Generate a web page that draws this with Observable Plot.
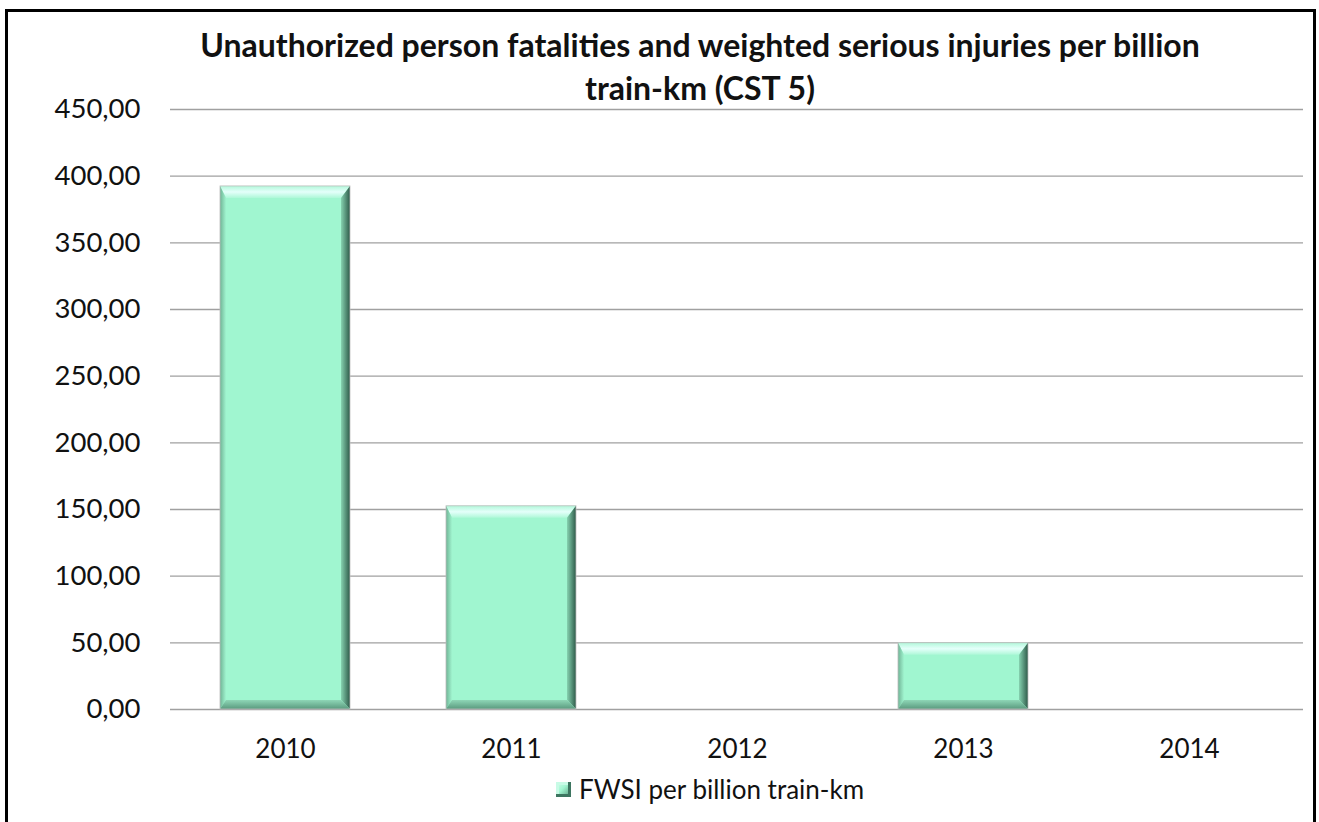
<!DOCTYPE html>
<html>
<head>
<meta charset="utf-8">
<script src="https://cdn.jsdelivr.net/npm/d3@7"></script>
<script src="https://cdn.jsdelivr.net/npm/@observablehq/plot@0.6"></script>
<style>
  html, body { margin: 0; padding: 0; background: #fff; overflow: hidden; }
  body { width: 1319px; height: 822px; position: relative; font-family: Lato, "Open Sans", sans-serif; }
  #frame { position: absolute; left: 5px; top: 9px; width: 1311px; height: 900px; border: 3px solid #000; box-sizing: border-box; pointer-events: none; }
  #title { position: absolute; left: 80px; width: 1240px; top: 23px; text-align: center; font-weight: 700; font-size: 32px; line-height: 43px; color: #111; }
  #title span { display: block; }
  #chart { position: absolute; left: 0; top: 70px; }
  #legend { position: absolute; left: 556px; top: 773px; display: flex; align-items: center; font-size: 26px; color: #111; }
  #legend .sw { width: 15px; height: 15px; margin-right: 8px; background: linear-gradient(135deg, #d8fff0 0%, #a0f5d0 45%, #4f8f74 100%); box-shadow: inset -3px -3px 0 #3d7560, inset 3px 3px 0 #c8fbe6; }
</style>
</head>
<body>
<svg width="0" height="0" style="position:absolute">
  <defs>
    <linearGradient id="bvTop" x1="0" y1="0" x2="0" y2="1">
      <stop offset="0" stop-color="#b2f8da"/>
      <stop offset="0.5" stop-color="#e4fffa"/>
      <stop offset="1" stop-color="#aef8d8"/>
    </linearGradient>
    <linearGradient id="bvLeft" x1="0" y1="0" x2="1" y2="0">
      <stop offset="0" stop-color="#6fb395"/>
      <stop offset="1" stop-color="#a0f4cf"/>
    </linearGradient>
    <linearGradient id="bvRight" x1="0" y1="0" x2="1" y2="0">
      <stop offset="0" stop-color="#86d2b0"/>
      <stop offset="1" stop-color="#2e5a49"/>
    </linearGradient>
    <linearGradient id="bvBottom" x1="0" y1="0" x2="0" y2="1">
      <stop offset="0" stop-color="#8ed6b6"/>
      <stop offset="1" stop-color="#5a9a7e"/>
    </linearGradient>
  </defs>
</svg>
<div id="frame"></div>
<div id="title"><span>Unauthorized person fatalities and weighted serious injuries per billion</span><span>train-km (CST 5)</span></div>
<div id="chart"></div>
<div id="legend"><div class="sw"></div><span>FWSI per billion train-km</span></div>
<script>
const years = ["2010", "2011", "2012", "2013", "2014"];
const fwsi = [392.3, 152.4, 0, 49.7, 0];
const yTicks = [0, 50, 100, 150, 200, 250, 300, 350, 400, 450];
const seriesName = "FWSI per billion train-km";

const data = years.map((y, i) => ({year: y, value: fwsi[i]}));
const fmt = v => v.toFixed(2).replace(".", ",");

function bevel(index, scales, values, dimensions, context, next) {
  const g = next(index, scales, values, dimensions, context);
  const ns = "http://www.w3.org/2000/svg";
  g.querySelectorAll("rect").forEach(r => {
    const x = +r.getAttribute("x"), y = +r.getAttribute("y");
    const w = +r.getAttribute("width"), h = +r.getAttribute("height");
    if (!(h > 0)) return;
    const bt = Math.min(12, h / 3), bb = Math.min(9, h / 3), bl = 6, br = 9;
    const polys = [
      [[x, y], [x + w, y], [x + w - br, y + bt], [x + bl, y + bt], "url(#bvTop)"],
      [[x, y], [x + bl, y + bt], [x + bl, y + h - bb], [x, y + h], "url(#bvLeft)"],
      [[x + w - br, y + bt], [x + w, y], [x + w, y + h], [x + w - br, y + h - bb], "url(#bvRight)"],
      [[x, y + h], [x + bl, y + h - bb], [x + w - br, y + h - bb], [x + w, y + h], "url(#bvBottom)"]
    ];
    const parent = r.parentNode;
    for (const p of polys) {
      const el = document.createElementNS(ns, "polygon");
      el.setAttribute("points", p.slice(0, 4).map(q => q.join(",")).join(" "));
      el.setAttribute("fill", p[4]);
      parent.appendChild(el);
    }
    const outline = document.createElementNS(ns, "rect");
    ["x", "y", "width", "height"].forEach(a => outline.setAttribute(a, r.getAttribute(a)));
    outline.setAttribute("fill", "none");
    outline.setAttribute("stroke", "#bdbdbd");
    outline.setAttribute("stroke-width", "0.8");
    parent.appendChild(outline);
  });
  return g;
}

const chart = Plot.plot({
  width: 1319,
  height: 697,
  marginTop: 39,
  marginLeft: 170,
  marginRight: 16,
  marginBottom: 58,
  style: {fontFamily: "Lato, 'Open Sans', sans-serif", fontSize: "26px", color: "#111", background: "transparent", overflow: "visible"},
  x: {domain: years, paddingInner: 0.426, paddingOuter: 0.213, label: null},
  y: {domain: [0, 450], label: null},
  marks: [
    Plot.gridY(yTicks, {stroke: "#a0a0a0", strokeOpacity: 1, strokeWidth: 1.3}),
    Plot.barY(data, {x: "year", y: "value", fill: "#a0f6d0", render: bevel, title: d => `${seriesName}: ${fmt(d.value)}`}),
    Plot.axisY({ticks: yTicks, tickFormat: fmt, tickSize: 0, tickPadding: 30, label: null, fontSize: 27.5}),
    Plot.axisX({tickSize: 0, tickPadding: 30, label: null, fontSize: 26})
  ]
});
document.getElementById("chart").appendChild(chart);
</script>
</body>
</html>
